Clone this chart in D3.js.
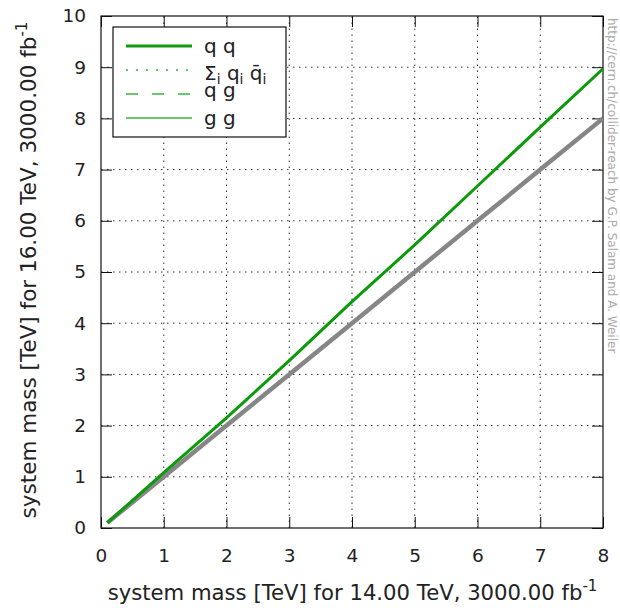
<!DOCTYPE html>
<html lang="en">
<head>
    <meta charset="UTF-8">
    <title>Collider reach</title>
    <script src="https://d3js.org/d3.v7.min.js"></script>
    <style>
        body { margin: 0; background: #fff; }
        text { font-family: "DejaVu Sans", sans-serif; fill: #222; }
    </style>
</head>
<body>
    <div id="chart"></div>
    <script>
        const width = 620;
        const height = 608;
        const margin = { top: 16, right: 17, bottom: 80, left: 101 };

        // Data
        const massLow = [0.1, 1, 2, 3, 4, 5, 6, 7, 8];
        const massHigh = [0.1, 1.08, 2.15, 3.27, 4.42, 5.53, 6.68, 7.83, 8.97];
        const diagonal = [0.1, 1, 2, 3, 4, 5, 6, 7, 8];
        const xTicks = [0, 1, 2, 3, 4, 5, 6, 7, 8];
        const yTicks = [0, 1, 2, 3, 4, 5, 6, 7, 8, 9, 10];
        const legendNames = ["q q", "Σ", "q g", "g g"];

        const green = "#0a9a0a";
        const innerW = width - margin.left - margin.right;
        const innerH = height - margin.top - margin.bottom;

        const svg = d3.select("#chart").append("svg")
            .attr("width", width)
            .attr("height", height);

        const x = d3.scaleLinear().domain([0, 8]).range([margin.left, margin.left + innerW]);
        const y = d3.scaleLinear().domain([0, 10]).range([margin.top + innerH, margin.top]);

        // dotted grid
        const grid = svg.append("g").attr("stroke", "#333").attr("stroke-width", 1)
            .attr("stroke-dasharray", "1.5,4.5");
        grid.selectAll(".gx").data(xTicks.slice(1, -1)).join("line")
            .attr("x1", d => x(d)).attr("x2", d => x(d))
            .attr("y1", y(0)).attr("y2", y(10));
        grid.selectAll(".gy").data(yTicks.slice(1, -1)).join("line")
            .attr("y1", d => y(d)).attr("y2", d => y(d))
            .attr("x1", x(0)).attr("x2", x(8));

        // axes with inward ticks
        const tick = 11;
        svg.append("g").attr("transform", `translate(0,${y(0)})`)
            .call(d3.axisBottom(x).tickValues(xTicks).tickSize(-tick).tickPadding(tick + 10))
            .call(g => g.select(".domain").remove());
        svg.append("g").attr("transform", `translate(0,${y(10)})`)
            .call(d3.axisTop(x).tickValues(xTicks).tickSize(-tick).tickFormat(""))
            .call(g => g.select(".domain").remove());
        svg.append("g").attr("transform", `translate(${x(0)},0)`)
            .call(d3.axisLeft(y).tickValues(yTicks).tickSize(-tick).tickPadding(tick + 4))
            .call(g => g.select(".domain").remove());
        svg.append("g").attr("transform", `translate(${x(8)},0)`)
            .call(d3.axisRight(y).tickValues(yTicks).tickSize(-tick).tickFormat(""))
            .call(g => g.select(".domain").remove());

        svg.selectAll(".tick line").attr("stroke", "#111");
        svg.selectAll(".tick text").style("font-size", "18.5px").attr("fill", "#222");

        // frame
        svg.append("rect")
            .attr("x", x(0)).attr("y", y(10))
            .attr("width", innerW).attr("height", innerH)
            .attr("fill", "none").attr("stroke", "#111").attr("stroke-width", 1.2);

        // lines
        svg.append("clipPath").attr("id", "clip").append("rect")
            .attr("x", x(0)).attr("y", y(10)).attr("width", innerW).attr("height", innerH);

        const line = d3.line().x(d => x(d[0])).y(d => y(d[1]));
        svg.append("path")
            .datum(massLow.map((m, i) => [m, diagonal[i]]))
            .attr("d", line).attr("fill", "none")
            .attr("stroke", "#868686").attr("stroke-width", 4.5)
            .attr("clip-path", "url(#clip)");
        svg.append("path")
            .datum(massLow.map((m, i) => [m, massHigh[i]]))
            .attr("d", line).attr("fill", "none")
            .attr("stroke", green).attr("stroke-width", 3)
            .attr("clip-path", "url(#clip)");

        // legend
        const lg = svg.append("g");
        lg.append("rect").attr("x", 113).attr("y", 27).attr("width", 173).attr("height", 110)
            .attr("fill", "#fff").attr("stroke", "#111").attr("stroke-width", 1.2);
        const rowsY = [46, 70, 94, 118];
        const styles = [
            { w: 3, dash: null, c: "#129a12" },
            { w: 1.5, dash: "2,8", c: "#3cb43c" },
            { w: 1.5, dash: "12,14", c: "#3cb43c" },
            { w: 1.5, dash: null, c: "#3cb43c" }
        ];
        lg.selectAll(".ll").data(rowsY).join("line")
            .attr("x1", 126).attr("x2", 192)
            .attr("y1", d => d).attr("y2", d => d)
            .attr("stroke", (d, i) => styles[i].c)
            .attr("stroke-width", (d, i) => styles[i].w)
            .attr("stroke-dasharray", (d, i) => styles[i].dash);

        const tx = 204;
        const fs = "20px";
        lg.append("text").attr("x", tx).attr("y", 53).style("font-size", fs).text(legendNames[0]);
        const sig = lg.append("text").attr("x", tx).attr("y", 80).style("font-size", fs);
        sig.append("tspan").text("Σ");
        sig.append("tspan").attr("dy", 4).style("font-size", "14px").text("i");
        sig.append("tspan").attr("dy", -4).text(" q");
        sig.append("tspan").attr("dy", 4).style("font-size", "14px").text("i");
        sig.append("tspan").attr("dy", -4).text(" q\u0304");
        sig.append("tspan").attr("dy", 4).style("font-size", "14px").text("i");
        lg.append("text").attr("x", tx).attr("y", 97).style("font-size", fs).text(legendNames[2]);
        lg.append("text").attr("x", tx).attr("y", 125).style("font-size", fs).text(legendNames[3]);

        // axis labels
        const xl = svg.append("text").attr("x", x(4) + 0.5).attr("y", 600)
            .attr("text-anchor", "middle").style("font-size", "21.2px");
        xl.append("tspan").text("system mass [TeV] for 14.00 TeV, 3000.00 fb");
        xl.append("tspan").attr("dy", -9).style("font-size", "15px").text("-1");

        const yl = svg.append("text")
            .attr("transform", `translate(36,${y(5) - 2}) rotate(-90)`)
            .attr("text-anchor", "middle").style("font-size", "21.5px");
        yl.append("tspan").text("system mass [TeV] for 16.00 TeV, 3000.00 fb");
        yl.append("tspan").attr("dy", -9).style("font-size", "15px").text("-1");

        // watermark
        svg.append("text")
            .attr("transform", "translate(608,18) rotate(90)")
            .style("font-size", "12px").style("fill", "#aaa")
            .text("http://cern.ch/collider-reach by G.P. Salam and A. Weiler");
    </script>
</body>
</html>
